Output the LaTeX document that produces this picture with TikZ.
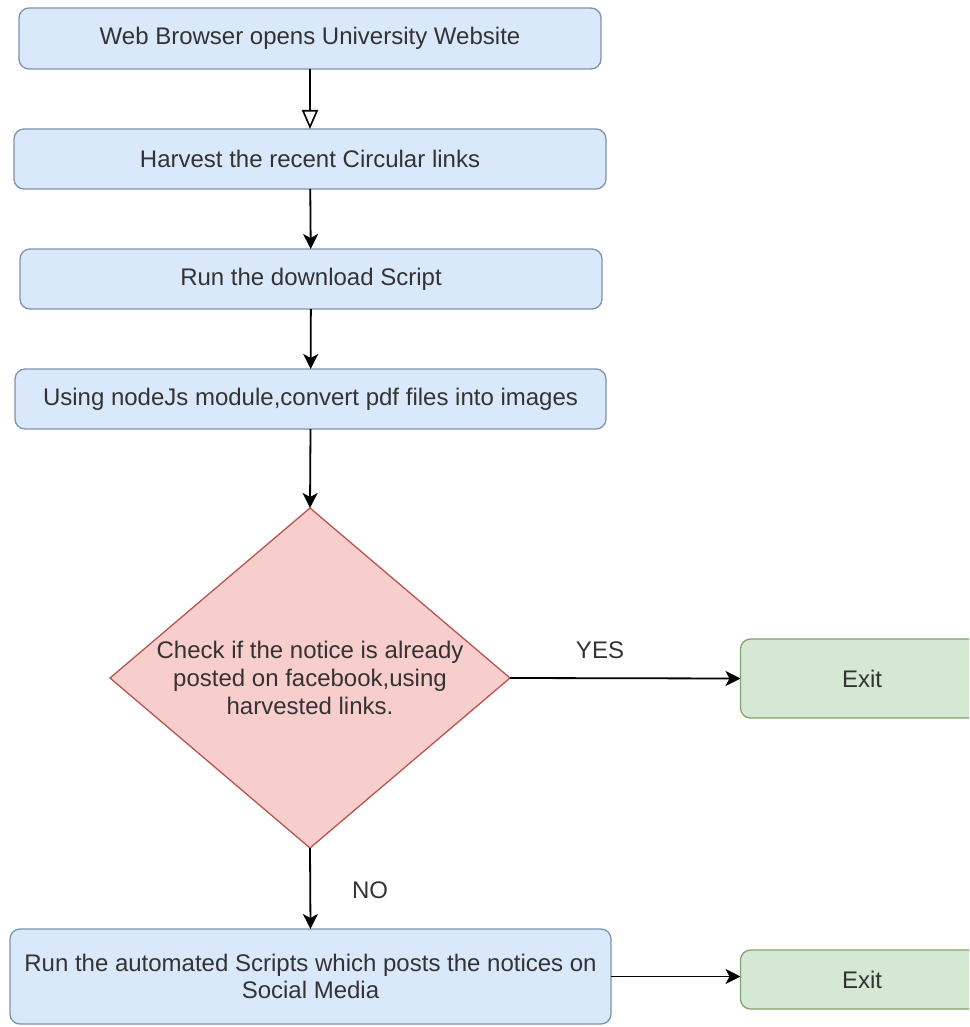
\documentclass[tikz,border=0pt]{standalone}
\usepackage{fontspec}
\setmainfont{Liberation Sans}
\usetikzlibrary{shapes.geometric,arrows.meta}
\definecolor{bluefill}{HTML}{DAE8FC}
\definecolor{bluedraw}{HTML}{7E93AD}
\definecolor{redfill}{HTML}{F8CECC}
\definecolor{reddraw}{HTML}{B85450}
\definecolor{greenfill}{HTML}{D5E8D4}
\definecolor{greendraw}{HTML}{82A36C}
\definecolor{txt}{HTML}{333333}
\tikzset{
  box/.style={rectangle, rounded corners=10pt, draw=bluedraw, fill=bluefill, line width=1.3pt,
    inner sep=0pt, outer sep=0pt, text=txt, align=center,
    font=\fontsize{24}{27}\selectfont},
  exitbox/.style={rectangle, rounded corners=10pt, draw=greendraw, fill=greenfill, line width=1.3pt,
    inner sep=0pt, outer sep=0pt, text=txt, font=\fontsize{24}{27}\selectfont},
  decision/.style={diamond, draw=reddraw, fill=redfill, line width=1.3pt, inner sep=0pt, outer sep=0pt},
  flow/.style={line width=1.8pt, -{Stealth[length=15pt,width=15pt,inset=4pt]}},
  openflow/.style={line width=1.8pt, -{Triangle[open,length=19pt,width=16pt,line width=1.6pt]}},
  lbl/.style={text=txt, font=\fontsize{24}{27}\selectfont, inner sep=0pt}
}
\begin{document}
\begin{tikzpicture}[x=1pt,y=-1pt]
\useasboundingbox (0,0) rectangle (969,1027);
\clip (0,0) rectangle (969,1027);
\node[box, minimum width=582pt, minimum height=61pt] (b1) at (310,38.5) {Web Browser opens University Website};
\node[box, minimum width=592pt, minimum height=60pt] (b2) at (310,159) {Harvest the recent Circular links};
\node[box, minimum width=582pt, minimum height=60pt] (b3) at (311,279) {Run the download Script};
\node[box, minimum width=591pt, minimum height=60pt] (b4) at (310.5,399) {Using nodeJs module,convert pdf files into images};
\node[decision, minimum width=400pt, minimum height=340pt,
  label={[align=center, text=txt, font=\fontsize{24}{28}\selectfont]center:Check if the notice is already\\posted on facebook,using\\harvested links.}] (d) at (310,678) {};
\node[exitbox, minimum width=243pt, minimum height=79pt] (e1) at (862,678.5) {Exit};
\node[box, minimum width=601pt, minimum height=95pt] (b5) at (310.5,976.5) {Run the automated Scripts which posts the notices on\\Social Media};
\node[exitbox, minimum width=243pt, minimum height=59pt] (e2) at (862,979.5) {Exit};
\draw[openflow] (b1) -- (b2);
\draw[flow] (b2) -- (b3);
\draw[flow] (b3) -- (b4);
\draw[flow] (b4.south) -- (d.north);
\draw[flow] (d.east) -- (e1.west);
\draw[flow] (d.south) -- (b5.north);
\draw[flow] (b5.east) -- (b5.east -| e2.west);
\node[lbl] (yes) at (600,650) {YES};
\node[lbl] (no) at (370,890) {NO};
\end{tikzpicture}
\end{document}
